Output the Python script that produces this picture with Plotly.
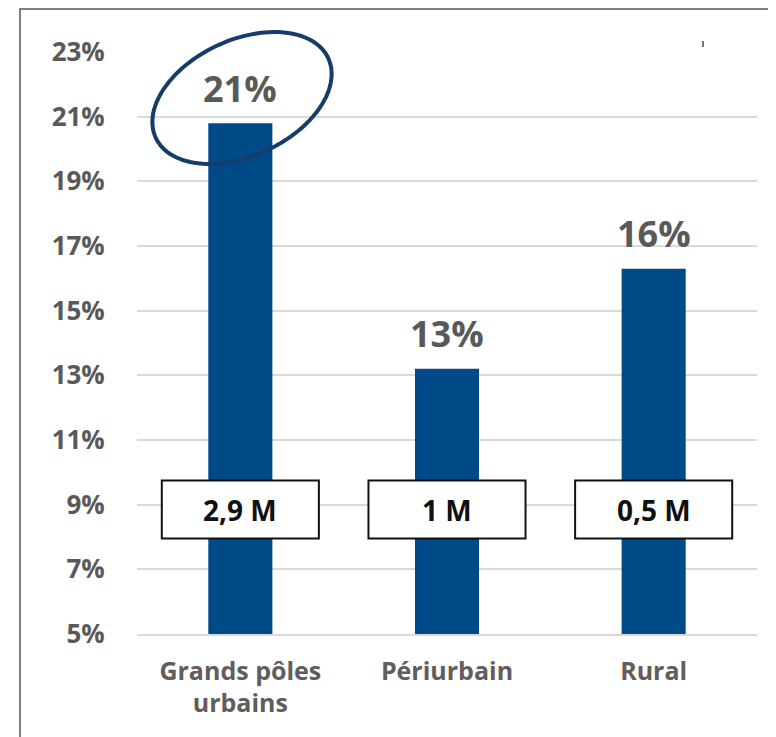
import numpy as np
import plotly.graph_objects as go

categories = ["Grands pôles<br>urbains", "Périurbain", "Rural"]
shares = [20.8, 13.2, 16.3]
share_labels = ["21%", "13%", "16%"]
pop_labels = ["2,9 M", "1 M", "0,5 M"]
y_ticks = [5, 7, 9, 11, 13, 15, 17, 19, 21, 23]

OFF = 8  # the page body adds an 8px margin
W, H = 776 - OFF, 737 - OFF
L, R, T, B = 137 - OFF, 19, 52 - OFF, 103
plot_w, plot_h = W - L - R, H - T - B

blue = "#004a87"
navy = "#163d69"
grey_txt = "#595959"
font = "Open Sans"


def px_to_paper(px, py):
    # px, py are positions as seen in the browser window
    px, py = px - OFF, py - OFF
    return (px - L) / plot_w, (H - B - py) / plot_h


fig = go.Figure()
fig.add_trace(go.Bar(x=categories, y=shares, marker=dict(color=blue, line=dict(width=0)),
                     width=0.31, hoverinfo="skip"))

shapes = []
annotations = []

# percentage labels above the bars
for c, v, t in zip(categories, shares, share_labels):
    annotations.append(dict(x=c, y=v, text=t, showarrow=False, yanchor="middle", yshift=35,
                            font=dict(family=font, size=36, color=grey_txt, weight="bold")))

# population boxes
for i, (c, t) in enumerate(zip(categories, pop_labels)):
    shapes.append(dict(type="rect", xref="x", yref="y", x0=i - 0.38, x1=i + 0.38, y0=7.95, y1=9.75,
                       fillcolor="white", line=dict(color="#111111", width=2), layer="above"))
    annotations.append(dict(x=c, y=8.85, text=t, showarrow=False,
                            font=dict(family=font, size=28, color="#111111", weight="bold")))

# ellipse around the 21% label
cx, cy, a, b, th = 242, 98, 95, 58, np.radians(24.7)
tt = np.linspace(0, 2 * np.pi, 121)
ex = cx + a * np.cos(tt) * np.cos(th) - b * np.sin(tt) * np.sin(th)
ey = cy - (a * np.cos(tt) * np.sin(th) + b * np.sin(tt) * np.cos(th))
pts = [px_to_paper(x, y) for x, y in zip(ex, ey)]
path = "M " + " L ".join(f"{x:.4f},{y:.4f}" for x, y in pts) + " Z"
shapes.append(dict(type="path", xref="paper", yref="paper", path=path,
                   line=dict(color=navy, width=4)))

# frame around the chart
fx0, fy0 = px_to_paper(20, OFF + 1)
fx1, fy1 = px_to_paper(771, 760)
shapes.append(dict(type="rect", xref="paper", yref="paper", x0=fx0, x1=fx1, y0=fy1, y1=fy0,
                   line=dict(color="#555555", width=1.5)))

# small stray mark top right
mx, my0 = px_to_paper(703, 41)
_, my1 = px_to_paper(703, 47)
shapes.append(dict(type="line", xref="paper", yref="paper", x0=mx, x1=mx, y0=my0, y1=my1,
                   line=dict(color="#777777", width=2)))

fig.update_layout(
    width=W, height=H,
    margin=dict(l=L, r=R, t=T, b=B, pad=0),
    plot_bgcolor="white", paper_bgcolor="white",
    showlegend=False, bargap=0.69,
    shapes=shapes, annotations=annotations,
    xaxis=dict(showgrid=False, showline=True, linecolor="#d9d9d9", linewidth=1.5,
               ticks="outside", ticklen=0, ticklabelstandoff=14,
               tickfont=dict(family=font, size=25, color="#625c5c", weight="bold")),
    yaxis=dict(range=[5, 23], tickvals=y_ticks, ticktext=[f"{v}%" for v in y_ticks],
               showgrid=True, gridcolor="#d9d9d9", gridwidth=1.5, zeroline=False,
               ticks="outside", ticklen=0, ticklabelstandoff=26,
               tickfont=dict(family=font, size=26, color=grey_txt, weight="bold")),
)

fig.write_html("out.html")
